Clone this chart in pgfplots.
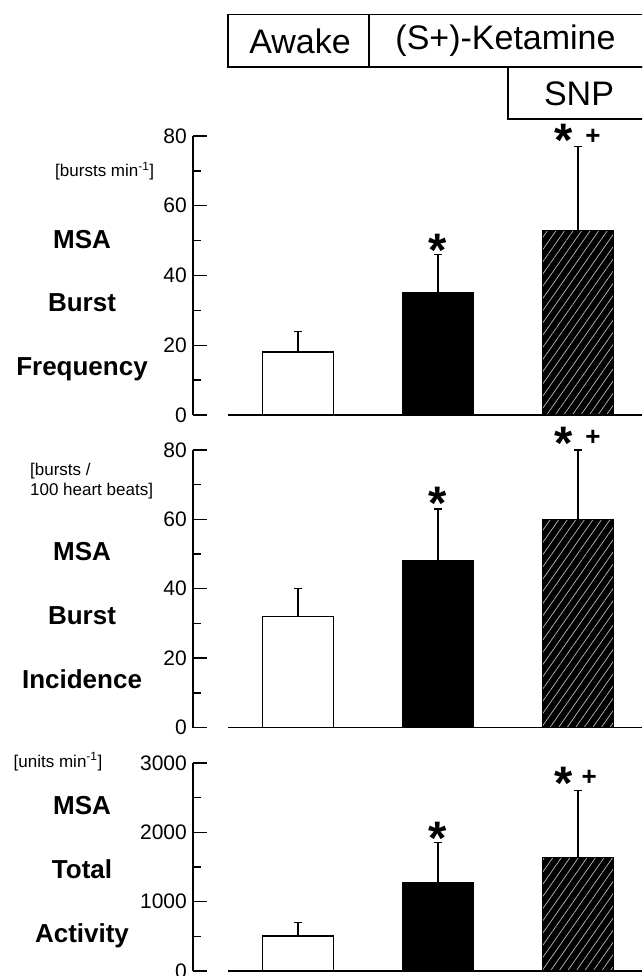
\documentclass[border=0pt]{standalone}
\usepackage{fontspec}
\setmainfont{Liberation Sans}
\usepackage{pgfplots}
\pgfplotsset{compat=1.18}
\usetikzlibrary{patterns.meta}

\newcommand{\lab}{\bfseries\fontsize{26}{26}\selectfont}
\newcommand{\unitfont}{\fontsize{17}{17}\selectfont}
\newcommand{\boxfont}{\fontsize{34}{34}\selectfont}
\newcommand{\starfont}{\bfseries\fontsize{47}{47}\selectfont}
\newcommand{\plusfont}{\bfseries\fontsize{26}{26}\selectfont}

\tikzset{
  sigstar/.style={anchor=north, inner sep=0pt, yshift=3pt, font=\starfont},
  sigplus/.style={anchor=north, inner sep=0pt, yshift=1pt, font=\plusfont},
}

\pgfplotsset{
  msa/.style={
    x=140pt, xmin=-0.25, xmax=2.96, ymin=0,
    anchor=origin, clip=false,
    axis x line=none, axis y line=left,
    y axis line style={-, line width=1.8pt},
    xtick=\empty,
    tick align=inside, major tick length=14pt, minor tick length=8pt,
    minor y tick num=1,
    every tick/.style={black, line width=1.5pt},
    y tick label style={font=\fontsize{21}{21}\selectfont, inner sep=0pt, xshift=-6pt},
    /pgf/number format/assume math mode=true,
    /pgf/number format/1000 sep={},
    scaled y ticks=false,
    ybar, bar width=71pt, bar shift=0pt,
    error bars/y dir=plus, error bars/y explicit,
    error bars/error mark=-,
    error bars/error bar style={line width=1.3pt, black, solid},
    error bars/error mark options={black, line width=1.3pt, mark size=4pt, rotate=90},
  },
  awake/.style={fill=white, draw=black, line width=1.8pt},
  keta/.style={fill=black, draw=black, line width=1pt},
  snp/.style={fill=black, draw=black, line width=1pt,
    postaction={pattern={Lines[angle=55, distance=7pt, line width=0.7pt]}, pattern color=gray!55}},
}

\begin{document}
\begin{tikzpicture}
\useasboundingbox (0pt,0pt) rectangle (642pt,-976pt);
\clip (0pt,0pt) rectangle (642pt,-976pt);

% condition boxes
\draw[line width=1.3pt] (228pt,-14.5pt) rectangle (369pt,-67pt);
\draw[line width=1.3pt] (369pt,-14.5pt) rectangle (660pt,-67pt);
\draw[line width=1.3pt] (508pt,-67pt) rectangle (660pt,-119pt);
\node[font=\boxfont] at (300pt,-41pt) {Awake};
\node[font=\boxfont] at (505.5pt,-41pt) {(S+)-Ketamine};
\node[font=\boxfont] at (579pt,-94pt) {SNP};

% panel 1: burst frequency
\begin{axis}[msa, at={(228pt,-415pt)}, y=3.4875pt, ymax=80, ytick={0,20,40,60,80}]
\addplot[awake] coordinates {(0.5,18) +- (0,6)};
\addplot[keta] coordinates {(1.5,35) +- (0,11)};
\addplot[snp] coordinates {(2.5,53) +- (0,24)};
\draw[line width=1.8pt] (axis cs:0,0) -- (axis cs:2.96,0);
\node[sigstar] at (axis cs:1.5,51.0) {*};
\node[sigstar] at (axis cs:2.4,82.6) {*};
\node[sigplus] at (axis cs:2.607,81.8) {+};
\end{axis}

% panel 2: burst incidence
\begin{axis}[msa, at={(228pt,-727.5pt)}, y=3.469pt, ymax=80, ytick={0,20,40,60,80}]
\addplot[awake] coordinates {(0.5,32) +- (0,8)};
\addplot[keta] coordinates {(1.5,48) +- (0,15)};
\addplot[snp] coordinates {(2.5,60) +- (0,20)};
\draw[line width=1.8pt] (axis cs:0,0) -- (axis cs:2.96,0);
\node[sigstar] at (axis cs:1.5,68.5) {*};
\node[sigstar] at (axis cs:2.4,85.8) {*};
\node[sigplus] at (axis cs:2.607,85.5) {+};
\end{axis}

% panel 3: total activity
\begin{axis}[msa, at={(228pt,-971pt)}, y=0.069333pt, ymax=3000, ytick={0,1000,2000,3000}]
\addplot[awake] coordinates {(0.5,500) +- (0,200)};
\addplot[keta] coordinates {(1.5,1280) +- (0,570)};
\addplot[snp] coordinates {(2.5,1630) +- (0,970)};
\draw[line width=1.8pt] (axis cs:0,0) -- (axis cs:2.96,0);
\node[sigstar] at (axis cs:1.5,2106) {*};
\node[sigstar] at (axis cs:2.4,2899) {*};
\node[sigplus] at (axis cs:2.58,2877) {+};
\end{axis}

% left labels
\node[anchor=base west, font=\unitfont] at (51.7pt,-177pt) {[bursts min\textsuperscript{-1}]};
\node[anchor=base, font=\lab] at (82pt,-248.3pt) {MSA};
\node[anchor=base, font=\lab] at (82pt,-311.7pt) {Burst};
\node[anchor=base, font=\lab] at (82pt,-375pt) {Frequency};

\node[anchor=base west, font=\unitfont] at (26.6pt,-475.7pt) {[bursts /};
\node[anchor=base west, font=\unitfont] at (26.6pt,-495.7pt) {100 heart beats]};
\node[anchor=base, font=\lab] at (82pt,-560pt) {MSA};
\node[anchor=base, font=\lab] at (82pt,-624pt) {Burst};
\node[anchor=base, font=\lab] at (82pt,-688.3pt) {Incidence};

\node[anchor=base west, font=\unitfont] at (10.2pt,-767pt) {[units min\textsuperscript{-1}]};
\node[anchor=base, font=\lab] at (82pt,-814pt) {MSA};
\node[anchor=base, font=\lab] at (82pt,-878.3pt) {Total};
\node[anchor=base, font=\lab] at (82pt,-942pt) {Activity};
\end{tikzpicture}
\end{document}
